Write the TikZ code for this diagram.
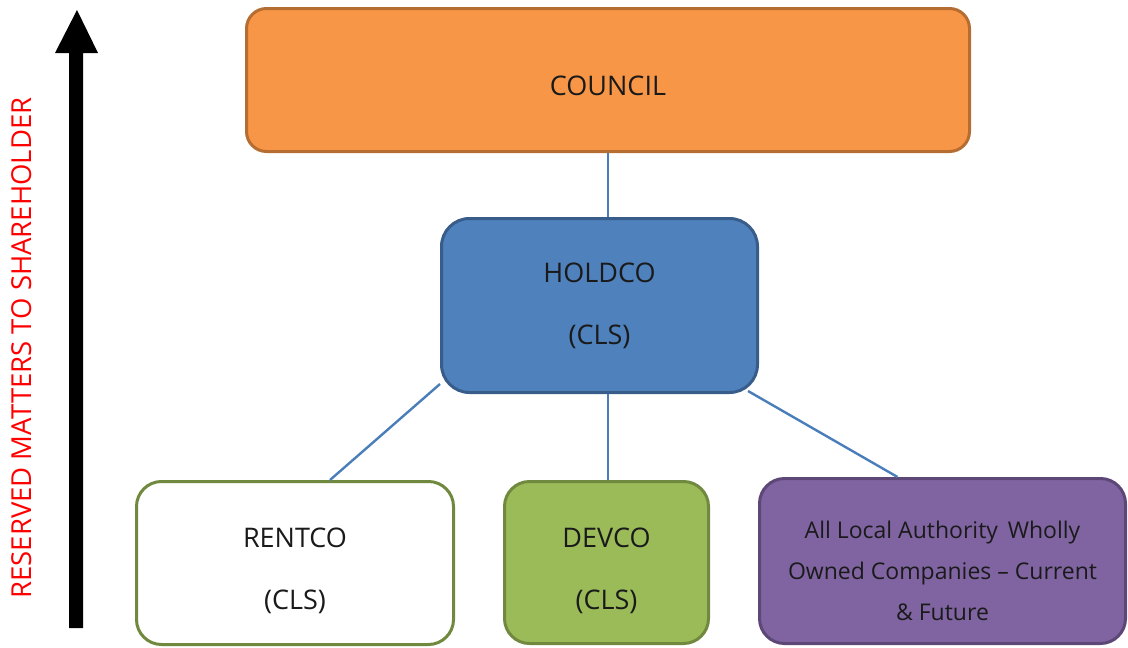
\documentclass[tikz,border=0pt]{standalone}
\usepackage{fontspec}
\setmainfont{Open Sans}
\usetikzlibrary{calc}
\definecolor{orfill}{HTML}{F79646}
\definecolor{ordraw}{HTML}{B66D31}
\definecolor{blfill}{HTML}{4F81BD}
\definecolor{bldraw}{HTML}{385D8A}
\definecolor{grfill}{HTML}{9BBB59}
\definecolor{grdraw}{HTML}{71893F}
\definecolor{pufill}{HTML}{8064A2}
\definecolor{pudraw}{HTML}{5C4776}
\definecolor{conn}{HTML}{4A7EBB}
\definecolor{txt}{HTML}{1A1A1A}
\newcommand{\pushdown}[1]{\rule{0pt}{#1}}
\tikzset{
  box/.style={rectangle, line width=3pt, align=center, text=txt, inner sep=0pt,
    font=\fontsize{27}{62}\selectfont},
  link/.style={conn, line width=2.4pt},
}
\begin{document}
\begin{tikzpicture}[x=1pt,y=-1pt]
\useasboundingbox (0,0) rectangle (1128,648);
\node[box, fill=orfill, draw=ordraw, rounded corners=20pt, minimum width=723pt, minimum height=143pt] (council) at (608,80) {\pushdown{31pt}COUNCIL};
\node[box, fill=blfill, draw=bldraw, rounded corners=28pt, minimum width=316pt, minimum height=174pt] (holdco) at (599.5,305.5) {HOLDCO\\(CLS)};
\node[box, fill=white, draw=grdraw, rounded corners=25pt, minimum width=317pt, minimum height=163pt] (rentco) at (295,563) {\pushdown{36pt}RENTCO\\(CLS)};
\node[box, fill=grfill, draw=grdraw, rounded corners=25pt, minimum width=204pt, minimum height=162pt] (devco) at (606.5,562.5) {\pushdown{36pt}DEVCO\\(CLS)};
\node[box, fill=pufill, draw=pudraw, rounded corners=25pt, minimum width=366pt, minimum height=165pt,
  font=\fontsize{23}{41}\selectfont] (allco) at (942.5,561) {\pushdown{37pt}All Local Authority\, Wholly\\Owned Companies -- Current\\\& Future};
\coordinate (h1) at ($(holdco.south west)+(0,-10)$);
\coordinate (h2) at ($(holdco.south east)+(-11,-3)$);
\coordinate (r1) at ($(rentco.north)+(35,0)$);
\coordinate (a1) at ($(allco.north)+(-45,0)$);
\draw[link] (council.south) -- (council.south |- holdco.north);
\draw[link] (council.south |- holdco.south) -- (council.south |- devco.north);
\draw[link] (h1) -- (r1);
\draw[link] (h2) -- (a1);
\fill[black] (69,628) -- (83,628) -- (83,53) -- (98,53) -- (77,10) -- (55,53) -- (69,53) -- cycle;
\node[rotate=90, text=red, inner sep=0pt, font=\fontsize{27.5}{30}\selectfont] (rm) at (22,348) {RESERVED MATTERS TO SHAREHOLDER};
\end{tikzpicture}
\end{document}
